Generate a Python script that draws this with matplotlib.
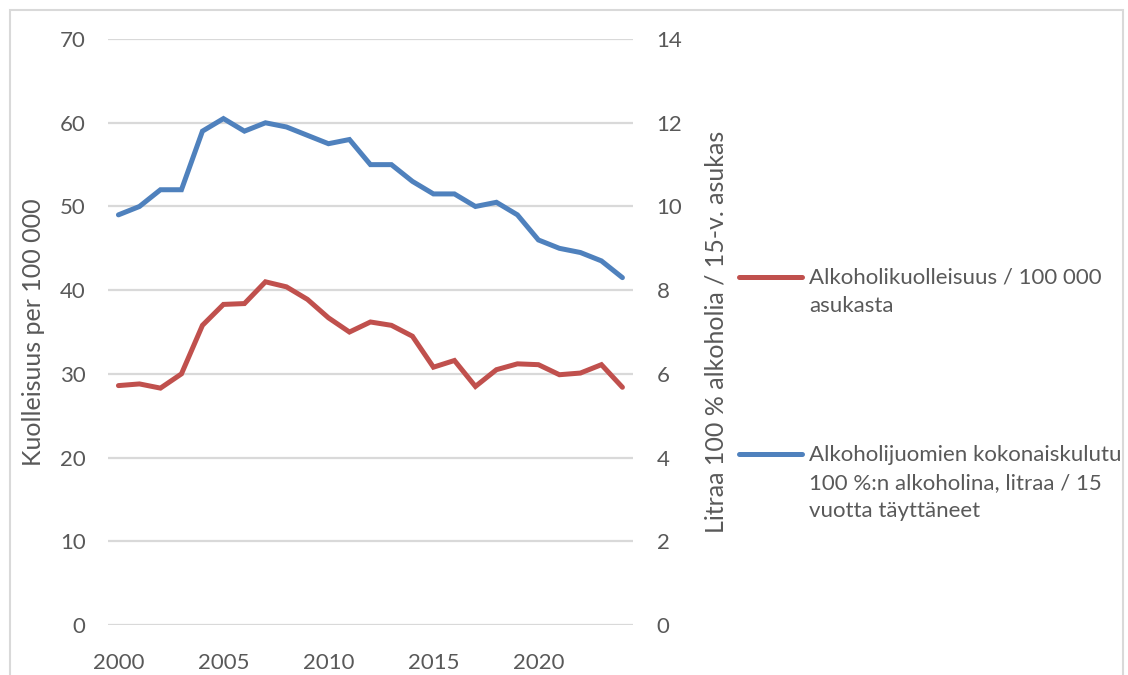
import matplotlib
matplotlib.use("Agg")
import matplotlib.pyplot as plt
from matplotlib.lines import Line2D
from matplotlib.patches import Rectangle
from matplotlib.transforms import Bbox, TransformedBbox

# data
years = list(range(2000, 2025))
deaths = [28.6, 28.8, 28.3, 30.0, 35.8, 38.3, 38.4, 41.0, 40.4, 38.9,
          36.7, 35.0, 36.2, 35.8, 34.5, 30.8, 31.6, 28.5, 30.5, 31.2,
          31.1, 29.9, 30.1, 31.1, 28.4]
consumption = [9.8, 10.0, 10.4, 10.4, 11.8, 12.1, 11.8, 12.0, 11.9, 11.7,
               11.5, 11.6, 11.0, 11.0, 10.6, 10.3, 10.3, 10.0, 10.1, 9.8,
               9.2, 9.0, 8.9, 8.7, 8.3]
left_ticks = [0, 10, 20, 30, 40, 50, 60, 70]
right_ticks = [0, 2, 4, 6, 8, 10, 12, 14]
x_ticks = [2000, 2005, 2010, 2015, 2020]
label_deaths = "Alkoholikuolleisuus / 100 000\nasukasta"
label_cons = "Alkoholijuomien kokonaiskulutus\n100 %:n alkoholina, litraa / 15\nvuotta täyttäneet"

RED = "#C0504D"
BLUE = "#4F81BD"
GREY = "#595959"
GRID = "#D9D9D9"

plt.rcParams['font.family'] = ['Lato', 'DejaVu Sans']
plt.rcParams['font.size'] = 16

fig = plt.figure(figsize=(11.28, 6.75), dpi=100)
ax = fig.add_axes([0.0957, 0.0741, 0.4654, 0.868])
ax2 = ax.twinx()

# gridlines from left axis
ax.set_ylim(0, 70)
ax.set_yticks(left_ticks)
ax.grid(axis='y', color=GRID, linewidth=1.6)
ax.set_axisbelow(True)
ax.set_xlim(1999.5, 2024.5)
ax.set_xticks(x_ticks)

ax.plot(years, deaths, color=RED, linewidth=3.6, solid_capstyle='round',
        solid_joinstyle='miter', zorder=3)

ax2.set_ylim(0, 14)
ax2.set_yticks(right_ticks)
ax2.plot(years, consumption, color=BLUE, linewidth=3.6, solid_capstyle='round',
         solid_joinstyle='miter', zorder=3)

for a in (ax, ax2):
    for s in a.spines.values():
        s.set_visible(False)
    a.tick_params(length=0, colors=GREY, labelsize=16)
ax.tick_params(axis='y', pad=16)
ax2.tick_params(axis='y', pad=17)
ax.tick_params(axis='x', pad=20)

ax.set_ylabel("Kuolleisuus per 100 000", color=GREY, fontsize=18, labelpad=11)
ax2.set_ylabel("Litraa 100 % alkoholia / 15-v. asukas", color=GREY,
               fontsize=18, labelpad=16)

# legend drawn by hand to the right, clipped at the frame like the original
clip = TransformedBbox(Bbox([[0.0, 0.0], [0.995, 1.0]]), fig.transFigure)
for y, col, lab in [(0.5896, RED, label_deaths), (0.3274, BLUE, label_cons)]:
    fig.add_artist(Line2D([0.655, 0.711], [y, y], transform=fig.transFigure,
                          color=col, linewidth=3.6, solid_capstyle='round'))
    t = fig.text(0.717, y + 0.0135, lab, ha='left', va='top', color=GREY,
                 fontsize=16, linespacing=1.5)
    t.set_clip_box(clip)
    t.set_clip_on(True)

# outer frame
fig.add_artist(Rectangle((0.009, -0.05), 0.987, 1.035, transform=fig.transFigure,
                         fill=False, edgecolor=GRID, linewidth=1.5))

fig.savefig("out.png", dpi=100)
